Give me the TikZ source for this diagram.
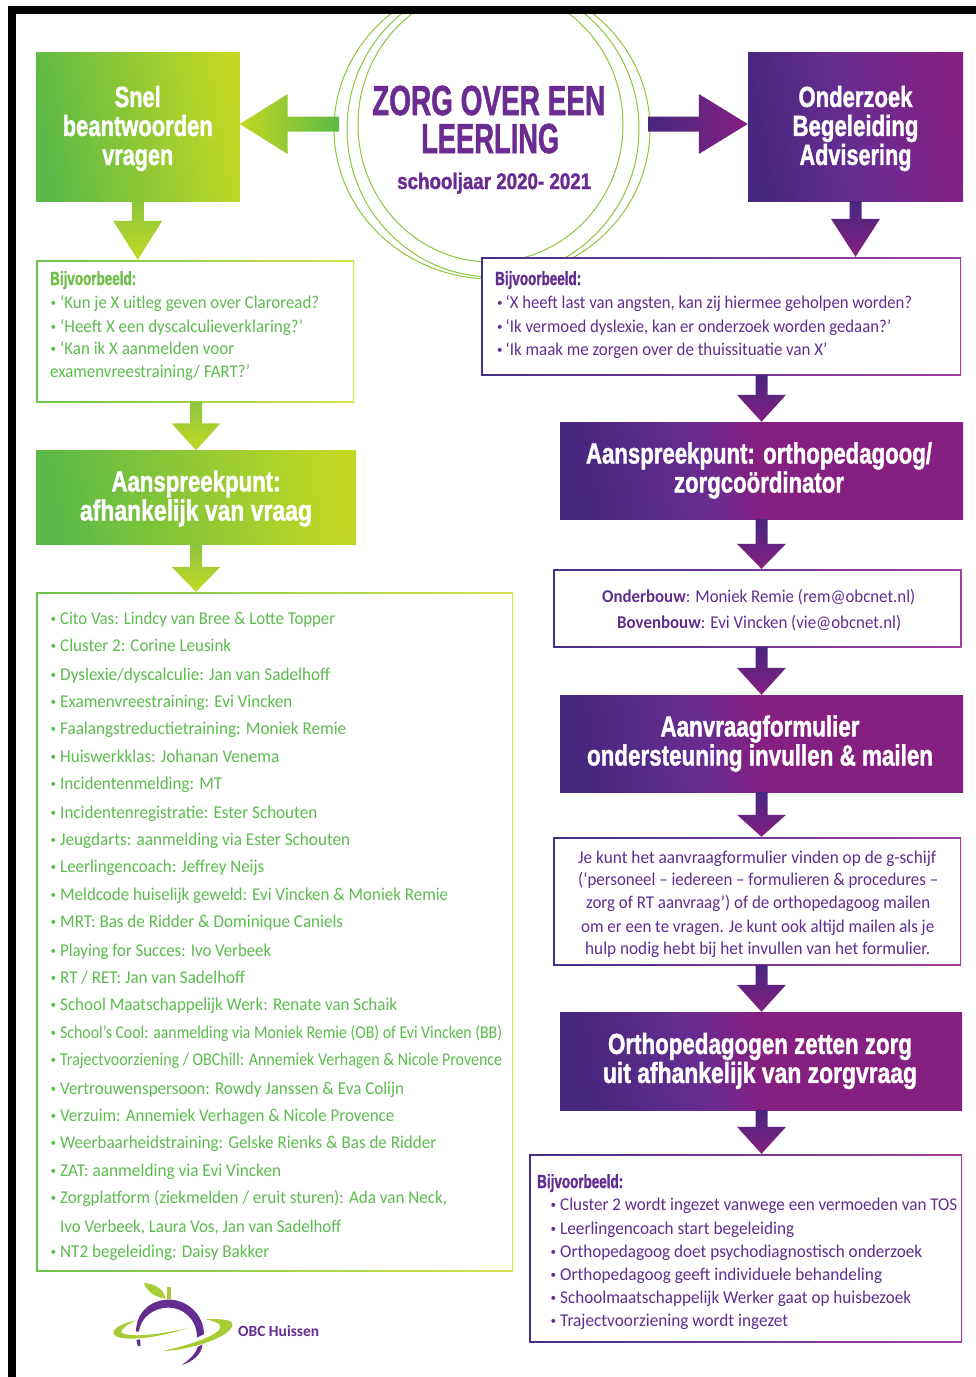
\documentclass[tikz,border=0pt]{standalone}
\usepackage{fontspec}
\usepackage{graphicx}
\usetikzlibrary{calc}
\setmainfont{Carlito}
\newfontfamily\headfam[BoldFont={Liberation Sans Bold},BoldFeatures={FakeBold=1.6}]{Liberation Sans}
\newfontfamily\bodyfam{Carlito}
\definecolor{gA}{HTML}{5BB947}
\definecolor{gB}{HTML}{C3D823}
\definecolor{gM}{HTML}{8DC63F}
\definecolor{pA}{HTML}{46277F}
\definecolor{pB}{HTML}{6A2C91}
\definecolor{pC}{HTML}{851F80}
\definecolor{fgA}{HTML}{6CC24A}
\definecolor{fgB}{HTML}{D8E24A}
\definecolor{fpA}{HTML}{46308A}
\definecolor{fpB}{HTML}{A0409A}
\definecolor{listgreen}{HTML}{5CBB4E}
\definecolor{bijgreen}{HTML}{6DBE45}
\definecolor{listpurple}{HTML}{5F2E90}
\definecolor{ringgreen}{HTML}{8CC63F}
\definecolor{logogreen}{HTML}{A8CC35}
\definecolor{logopurple}{HTML}{662D91}
\pgfdeclarehorizontalshading{gband}{100bp}{color(0bp)=(gA); color(25bp)=(gA); color(75bp)=(gB); color(100bp)=(gB)}
\pgfdeclarehorizontalshading{pwide}{100bp}{color(0bp)=(pA); color(25bp)=(pA); color(42bp)=(pB); color(50bp)=(pC); color(100bp)=(pC)}
\pgfdeclarehorizontalshading{psquare}{100bp}{color(0bp)=(pA); color(25bp)=(pA); color(50bp)=(pB); color(75bp)=(pC); color(100bp)=(pC)}
\pgfdeclarehorizontalshading{fg}{100bp}{color(0bp)=(fgA); color(25bp)=(fgA); color(75bp)=(fgB); color(100bp)=(fgB)}
\pgfdeclarehorizontalshading{fp}{100bp}{color(0bp)=(fpA); color(25bp)=(fpA); color(75bp)=(fpB); color(100bp)=(fpB)}
\newcommand{\headsz}{\headfam\bfseries\fontsize{29}{29}\selectfont}
\newcommand{\hl}[2]{\resizebox{#1pt}{\height}{#2}}
\newcommand{\bul}{\raisebox{1.5pt}{\scalebox{.62}{•}}}
\newcommand{\tl}[5]{\pgfmathsetmacro\twd{#3-#2}\node[txt] (#1) at (#2,#4) {\resizebox{\twd pt}{\height}{#5}};}
\newcommand{\bl}[6]{\pgfmathsetmacro\twd{#4-#3}\pgfmathsetmacro\bwd{#3-#2}\node[txt] (#1) at (#2,#5) {\makebox[\bwd pt][l]{\bul}\resizebox{\twd pt}{\height}{#6}};}
\newcommand{\bijv}{\headfam\bfseries\fontsize{19}{19}\selectfont Bijvoorbeeld:}
% vertical block connector: style, source, target, x reference, head height
\newcommand{\downarrowblk}[5]{\path[#1] let \p1=(#2.south), \p2=(#3.north), \p3=(#4) in
  ({\x3-6pt},\y1) -- ({\x3+6pt},\y1) -- ({\x3+6pt},{\y2+#5pt}) -- ({\x3+24.5pt},{\y2+#5pt}) -- (\x3,\y2) -- ({\x3-24.5pt},{\y2+#5pt}) -- ({\x3-6pt},{\y2+#5pt}) -- cycle;}
\tikzset{
  greenbox/.style={shade,shading=gband,shading angle=10,inner sep=0pt,text=white,align=center,font=\headsz},
  purplebox/.style={shade,shading=pwide,shading angle=10,inner sep=0pt,text=white,align=center,font=\headsz},
  purplesq/.style={shade,shading=psquare,shading angle=10,inner sep=0pt,text=white,align=center,font=\headsz},
  whiteinside/.style={path picture={\fill[white] ([shift={(1.5pt,1.5pt)}]path picture bounding box.south west) rectangle ([shift={(-1.5pt,-1.5pt)}]path picture bounding box.north east);}},
  greenframe/.style={shade,shading=fg,inner sep=0pt,whiteinside},
  purpleframe/.style={shade,shading=fp,inner sep=0pt,whiteinside},
  txt/.style={anchor=base west,inner sep=0pt,font=\bodyfam\fontsize{18}{18}\selectfont},
  gdown/.style={shade,top color=gM,bottom color=gB},
  pdown/.style={shade,top color=pA,middle color=pB,bottom color=pC},
  ring/.style={draw=ringgreen,line width=1pt},
}
\begin{document}
\begin{tikzpicture}[x=1pt,y=-1pt]
\useasboundingbox (0,0) rectangle (976,1377);
\fill[white] (0,0) rectangle (976,1377);
% circles behind everything
\begin{scope}
  \clip (16,14) rectangle (976,1377);
  \draw[ring] (490.5,124.5) ellipse [x radius=132.5,y radius=137.5];
  \draw[ring] (493,129) ellipse [x radius=146,y radius=148];
  \draw[ring] (492,129) ellipse [x radius=158,y radius=150];
\end{scope}
% frame
\fill[black] (8,6) rectangle (976,14);
\fill[black] (8,6) rectangle (16,1377);
% boxes
\node[greenbox,minimum width=203.5,minimum height=149] (snel) at (137.75,126.5)
  {\rule{0pt}{25pt}\hl{46}{Snel}\\\hl{150}{beantwoorden}\\\hl{71}{vragen}};
\node[purplesq,minimum width=215,minimum height=149] (onderzoek) at (855.5,126.5)
  {\rule{0pt}{25pt}\hl{114}{Onderzoek}\\\hl{126}{Begeleiding}\\\hl{112}{Advisering}};
\node[greenframe,minimum width=318,minimum height=142] (bijvL) at (195,331) {};
\node[purpleframe,minimum width=480,minimum height=118] (bijvR) at (721,316) {};
\node[greenbox,minimum width=320,minimum height=94] (aanspG) at (196,497.5)
  {\rule{0pt}{23pt}\hl{169}{Aanspreekpunt:}\\\hl{232}{afhankelijk van vraag}};
\node[greenframe,minimum width=477,minimum height=679] (lijst) at (274.5,931.5) {};
\node[purplebox,minimum width=403,minimum height=97] (aanspP) at (761.5,470.5)
  {\hspace*{-5pt}\hl{346}{Aanspreekpunt: orthopedagoog/}\\\hspace*{-5pt}\hl{170}{zorgcoördinator}};
\node[purpleframe,minimum width=408.5,minimum height=78] (contact) at (757.25,608) {};
\node[purplebox,minimum width=403,minimum height=97] (aanvraag) at (761.5,743.5)
  {\hspace*{-3pt}\hl{199}{Aanvraagformulier}\\\hspace*{-3pt}\hl{346}{ondersteuning invullen \& mailen}};
\node[purpleframe,minimum width=408,minimum height=128] (uitleg) at (757,901) {};
\node[purplebox,minimum width=402,minimum height=98] (ortho) at (761,1061)
  {\hspace*{-2pt}\hl{304}{Orthopedagogen zetten zorg}\\\hspace*{-2pt}\hl{314}{uit afhankelijk van zorgvraag}};
\node[purpleframe,minimum width=433,minimum height=188] (voorb) at (745.5,1248) {};
% named helper points
\coordinate (stubL) at (339,124);
\coordinate (stubR) at (648,124);
% horizontal connectors from the circle
\path[shade,left color=gB,right color=gA] let \p1=(stubL), \p2=(snel.east) in
  (\x1,{\y1+7.5pt}) -- ({\x2+48pt},{\y1+7.5pt}) -- ({\x2+48pt},{\y1+30pt}) -- (\x2,\y1) -- ({\x2+48pt},{\y1-30pt}) -- ({\x2+48pt},{\y1-7.5pt}) -- (\x1,{\y1-7.5pt}) -- cycle;
\path[shade,left color=pA,middle color=pB,right color=pC] let \p1=(stubR), \p2=(onderzoek.west) in
  (\x1,{\y1+7.5pt}) -- ({\x2-49pt},{\y1+7.5pt}) -- ({\x2-49pt},{\y1+30pt}) -- (\x2,\y1) -- ({\x2-49pt},{\y1-30pt}) -- ({\x2-49pt},{\y1-7.5pt}) -- (\x1,{\y1-7.5pt}) -- cycle;
% vertical connectors
\downarrowblk{gdown}{snel}{bijvL}{snel.south}{39}
\downarrowblk{pdown}{onderzoek}{bijvR}{onderzoek.south}{38}
\downarrowblk{gdown}{bijvL}{aanspG}{aanspG.north}{27}
\downarrowblk{gdown}{aanspG}{lijst}{aanspG.south}{25}
\downarrowblk{pdown}{bijvR}{aanspP}{aanspP.north}{27}
\downarrowblk{pdown}{aanspP}{contact}{aanspP.south}{25}
\downarrowblk{pdown}{contact}{aanvraag}{aanvraag.north}{27}
\downarrowblk{pdown}{aanvraag}{uitleg}{aanvraag.south}{22}
\downarrowblk{pdown}{uitleg}{ortho}{aanvraag.south}{27}
\downarrowblk{pdown}{ortho}{voorb}{aanvraag.south}{27}
% title
\begin{scope}[every node/.append style={text=pB}]
\tl{titleA}{372}{605}{115}{\headfam\bfseries\fontsize{42}{42}\selectfont ZORG OVER EEN}
\tl{titleB}{421}{559}{153}{\headfam\bfseries\fontsize{42}{42}\selectfont LEERLING}
\tl{titleC}{397}{591}{189}{\headfam\bfseries\fontsize{22.5}{22.5}\selectfont schooljaar 2020- 2021}
\end{scope}
% left example box
\begin{scope}[every node/.append style={text=listgreen}]
\tl{bLh}{50}{136}{285}{\color{bijgreen}\bijv}
\bl{bL1}{50.5}{60}{319}{308}{‘Kun je X uitleg geven over Claroread?}
\bl{bL2}{50.5}{60}{303}{332}{‘Heeft X een dyscalculieverklaring?’}
\bl{bL3}{50.5}{60}{234}{354}{‘Kan ik X aanmelden voor}
\tl{bL4}{50}{250}{377}{examenvreestraining/ FART?’}
\foreach \by/\rx/\tx [count=\i] in {
624/335/{Cito Vas: Lindcy van Bree \& Lotte Topper},
651/231/{Cluster 2: Corine Leusink},
680/330/{Dyslexie/dyscalculie: Jan van Sadelhoff},
707/292/{Examenvreestraining: Evi Vincken},
734/346/{Faalangstreductietraining: Moniek Remie},
762/279/{Huiswerkklas: Johanan Venema},
789/222/{Incidentenmelding: MT},
818/317/{Incidentenregistratie: Ester Schouten},
845/350/{Jeugdarts: aanmelding via Ester Schouten},
872/264/{Leerlingencoach: Jeffrey Neijs},
900/448/{Meldcode huiselijk geweld: Evi Vincken \& Moniek Remie},
927/343/{MRT: Bas de Ridder \& Dominique Caniels},
956/271/{Playing for Succes: Ivo Verbeek},
983/245/{RT / RET: Jan van Sadelhoff},
1010/397/{School Maatschappelijk Werk: Renate van Schaik},
1038/502/{School’s Cool: aanmelding via Moniek Remie (OB) of Evi Vincken (BB)},
1065/502/{Trajectvoorziening / OBChill: Annemiek Verhagen \& Nicole Provence},
1094/404/{Vertrouwenspersoon: Rowdy Janssen \& Eva Colijn},
1121/394/{Verzuim: Annemiek Verhagen \& Nicole Provence},
1148/436/{Weerbaarheidstraining: Gelske Rienks \& Bas de Ridder},
1176/281/{ZAT: aanmelding via Evi Vincken},
1203/447/{Zorgplatform (ziekmelden / eruit sturen): Ada van Neck,}}
{ \bl{li\i}{50.5}{60}{\rx}{\by}{\tx} }
\tl{liA}{60}{341}{1232}{Ivo Verbeek, Laura Vos, Jan van Sadelhoff}
\bl{liB}{50.5}{60}{269}{1257}{NT2 begeleiding: Daisy Bakker}
\end{scope}
% right text
\begin{scope}[every node/.append style={text=listpurple}]
\tl{bRh}{495}{581}{285}{\bijv}
\bl{bR1}{497}{505.5}{912}{308}{‘X heeft last van angsten, kan zij hiermee geholpen worden?}
\bl{bR2}{497}{505.5}{891}{332}{‘Ik vermoed dyslexie, kan er onderzoek worden gedaan?’}
\bl{bR3}{497}{505.5}{827}{355}{‘Ik maak me zorgen over de thuissituatie van X’}
\tl{cA}{602}{915}{602}{\textbf{Onderbouw}: Moniek Remie (rem@obcnet.nl)}
\tl{cB}{617}{901}{628}{\textbf{Bovenbouw}: Evi Vincken (vie@obcnet.nl)}
\tl{uA}{578}{936}{863}{Je kunt het aanvraagformulier vinden op de g-schijf}
\tl{uB}{578}{938}{885}{(‘personeel – iedereen – formulieren \& procedures –}
\tl{uC}{586}{930}{908}{zorg of RT aanvraag’) of de orthopedagoog mailen}
\tl{uD}{581}{934}{932}{om er een te vragen. Je kunt ook altijd mailen als je}
\tl{uE}{585}{930}{954}{hulp nodig hebt bij het invullen van het formulier.}
\tl{vh}{537}{623}{1188}{\bijv}
\bl{v1}{550.5}{560}{957}{1210}{Cluster 2 wordt ingezet vanwege een vermoeden van TOS}
\bl{v2}{550.5}{560}{794}{1234}{Leerlingencoach start begeleiding}
\bl{v3}{550.5}{560}{922}{1257}{Orthopedagoog doet psychodiagnostisch onderzoek}
\bl{v4}{550.5}{560}{882}{1280}{Orthopedagoog geeft individuele behandeling}
\bl{v5}{550.5}{560}{911}{1303}{Schoolmaatschappelijk Werker gaat op huisbezoek}
\bl{v6}{550.5}{560}{788}{1326}{Trajectvoorziening wordt ingezet}
\end{scope}
% logo
\begin{scope}[shift={(0,1260)},x=0.3444pt,y=-0.3444pt]
\fill[logogreen] (418,67) .. controls (455,68) and (478,90) .. (480,112) .. controls (450,108) and (425,90) .. cycle;
\fill[logogreen] (486,78) rectangle (497,112);
\fill[logopurple] (395,208) .. controls (395,150) and (440,115) .. (490,115) .. controls (545,115) and (592,160) .. (592,215) -- (572,225) .. controls (572,170) and (530,138) .. (488,138) .. controls (445,140) and (410,165) .. (403,208) -- cycle;
\fill[logopurple] (588,245) .. controls (585,275) and (560,295) .. (527,305) .. controls (550,290) and (570,270) .. (574,252) -- cycle;
\fill[logopurple] (396,232) -- (407,230) -- (408,250) -- (400,250) -- cycle;
\fill[logogreen] (395,175) .. controls (350,185) and (325,200) .. (330,215) .. controls (340,235) and (430,235) .. (548,197) .. controls (450,220) and (370,225) .. (352,210) .. controls (350,200) and (375,185) .. (395,175) -- cycle;
\fill[logogreen] (598,172) .. controls (650,170) and (680,175) .. (675,190) .. controls (665,225) and (560,260) .. (470,265) .. controls (560,245) and (640,215) .. (640,195) .. controls (640,182) and (620,178) .. (598,172) -- cycle;
\end{scope}
\node[txt,text=logopurple] (obc) at (238,1336) {\resizebox{81pt}{\height}{\fontsize{15.5}{15.5}\selectfont\bfseries OBC Huissen}};
\end{tikzpicture}
\end{document}
